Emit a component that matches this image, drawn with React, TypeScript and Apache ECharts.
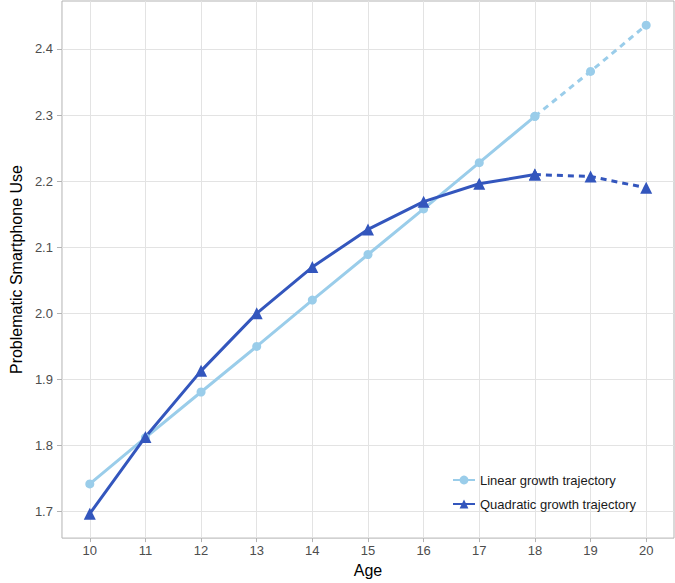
import React, { useEffect, useRef } from "react";
import * as echarts from "echarts";

const ages = [10, 11, 12, 13, 14, 15, 16, 17, 18, 19, 20];
const linearValues = [1.742, 1.812, 1.881, 1.950, 2.020, 2.089, 2.158, 2.228, 2.298, 2.366, 2.436];
const quadraticValues = [1.697, 1.813, 1.913, 2.000, 2.070, 2.127, 2.169, 2.196, 2.210, 2.207, 2.190];
const observedLastAge = 18;
const xTickValues = [10, 11, 12, 13, 14, 15, 16, 17, 18, 19, 20];
const yTickValues = [1.7, 1.8, 1.9, 2.0, 2.1, 2.2, 2.3, 2.4];
const linearName = "Linear growth trajectory";
const quadraticName = "Quadratic growth trajectory";

const LIGHT = "#9ACDEA";
const DARK = "#3356BD";

function pairs(values: number[], part: "solid" | "dashed") {
  return ages.map((a, i) => {
    const keep = part === "solid" ? a <= observedLastAge : a >= observedLastAge;
    return keep ? [a, values[i]] : [a, null];
  });
}

export default function App() {
  const ref = useRef<HTMLDivElement>(null);
  useEffect(() => {
    if (!ref.current) return;
    const chart = echarts.init(ref.current, undefined, { renderer: "svg" });
    const lineSeries = (name: string, values: number[], part: "solid" | "dashed", color: string, symbol: string, size: number) => ({
      type: "line",
      name,
      data: pairs(values, part),
      connectNulls: false,
      symbol,
      symbolSize: size,
      showAllSymbol: true,
      itemStyle: { color },
      lineStyle: { color, width: 3, type: part === "solid" ? "solid" : [6, 5] },
      emphasis: { disabled: true },
    });
    chart.setOption({
      animation: false,
      textStyle: { fontFamily: "Liberation Sans, Arial, sans-serif" },
      grid: {
        left: 47,
        right: 1,
        top: 1,
        bottom: 41,
        show: true,
        borderColor: "#B3B3B3",
        borderWidth: 1,
        backgroundColor: "transparent",
      },
      legend: {
        data: [linearName, quadraticName],
        orient: "vertical",
        left: 447,
        top: 468,
        itemWidth: 22,
        itemHeight: 11,
        itemGap: 10,
        textStyle: { fontSize: 13, color: "#1A1A1A", lineHeight: 14 },
      },
      xAxis: {
        type: "value",
        min: 9.5,
        max: 20.5,
        name: "Age",
        nameLocation: "middle",
        nameGap: 23,
        nameTextStyle: { fontSize: 16, color: "#000000" },
        axisLine: { show: false },
        axisTick: { show: true, length: 4, lineStyle: { color: "#B3B3B3" }, customValues: xTickValues },
        axisLabel: { customValues: xTickValues, fontSize: 13, color: "#4D4D4D", margin: 6 },
        splitLine: { show: true, lineStyle: { color: "#E3E3E3", width: 1 } },
      },
      yAxis: {
        type: "value",
        min: 1.66,
        max: 2.4725,
        name: "Problematic Smartphone Use",
        nameLocation: "middle",
        nameGap: 31,
        nameTextStyle: { fontSize: 16, color: "#000000" },
        axisLine: { show: false },
        axisTick: { show: true, length: 5, lineStyle: { color: "#B3B3B3" }, customValues: yTickValues },
        axisLabel: {
          customValues: yTickValues,
          fontSize: 13,
          color: "#4D4D4D",
          margin: 9,
          formatter: (v: number) => v.toFixed(1),
        },
        splitLine: { show: true, lineStyle: { color: "#E3E3E3", width: 1 } },
      },
      series: [
        lineSeries(linearName, linearValues, "solid", LIGHT, "circle", 9),
        lineSeries(linearName, linearValues, "dashed", LIGHT, "circle", 9),
        lineSeries(quadraticName, quadraticValues, "solid", DARK, "triangle", 12),
        lineSeries(quadraticName, quadraticValues, "dashed", DARK, "triangle", 12),
      ],
    });
    return () => chart.dispose();
  }, []);
  return (
    <div
      ref={ref}
      style={{ position: "fixed", left: 0, top: 0, width: 675, height: 583, background: "#FFFFFF" }}
    />
  );
}
